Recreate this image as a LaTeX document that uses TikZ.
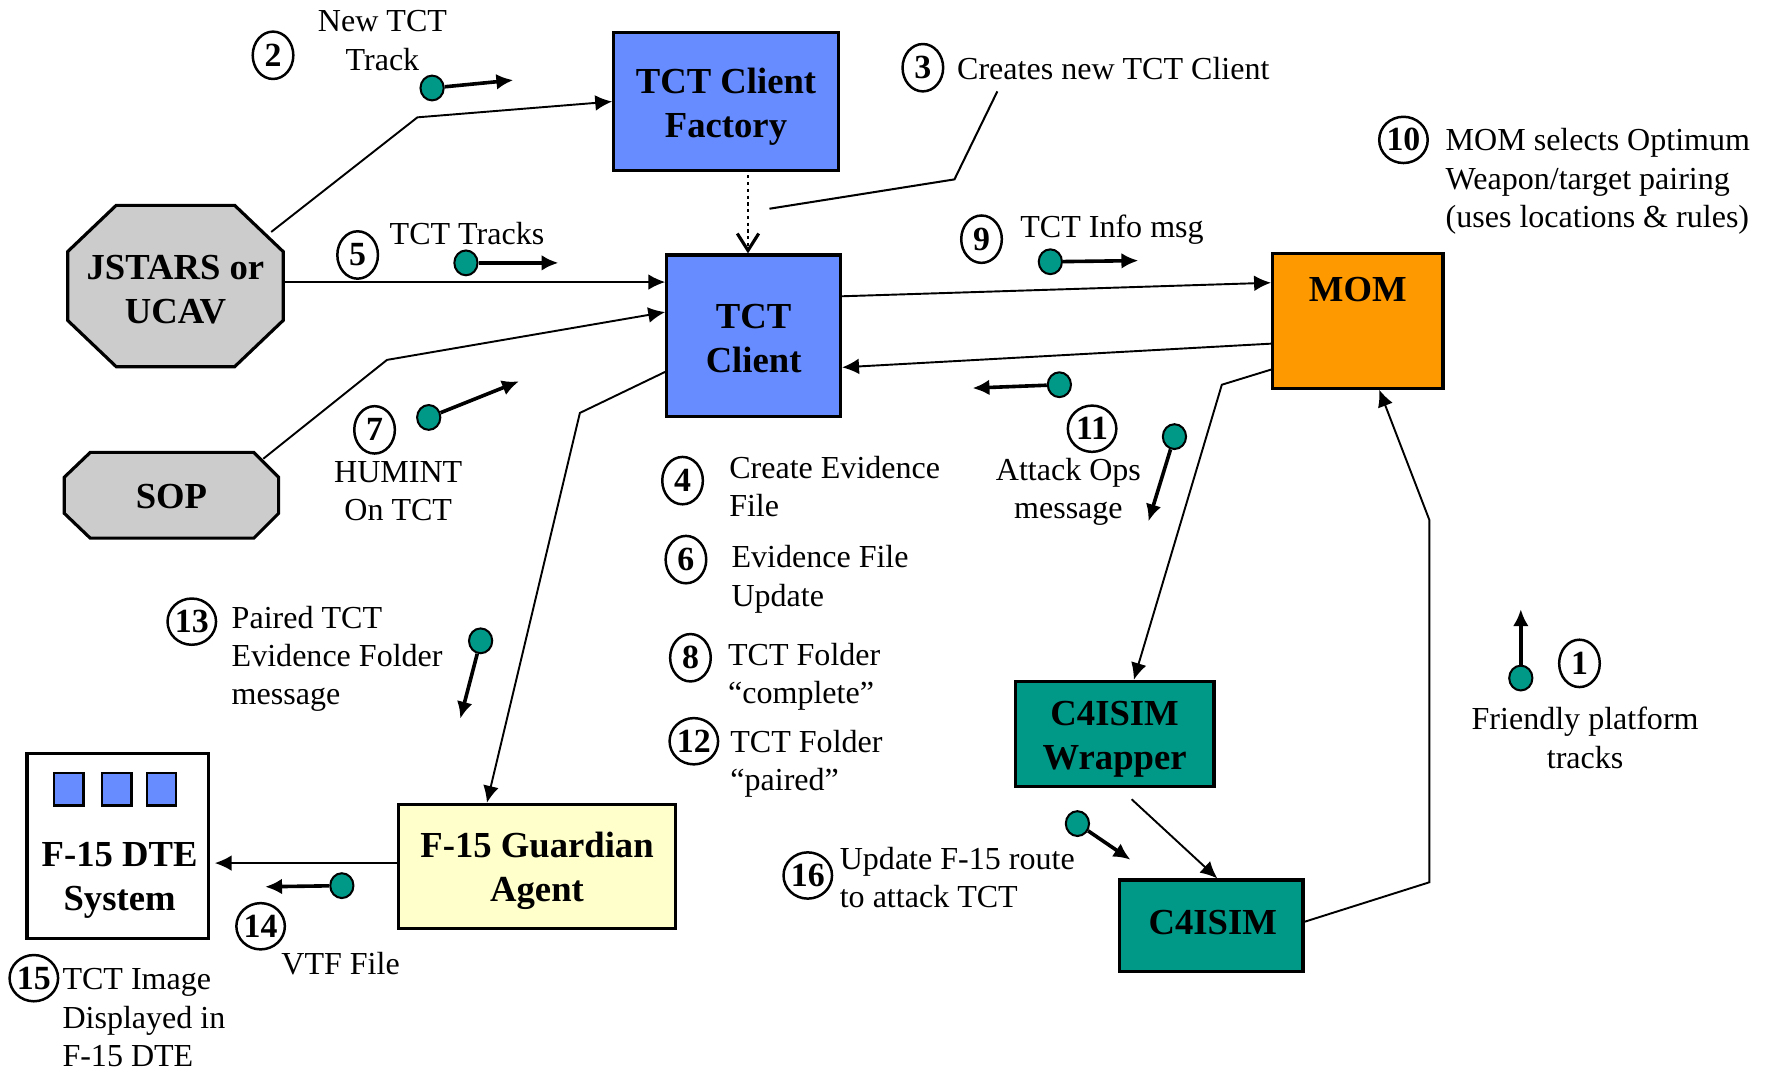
\documentclass[tikz,border=0pt]{standalone}
\usepackage{fontspec}
\setmainfont{Liberation Serif}
\usetikzlibrary{arrows.meta,calc,shapes.geometric}
\definecolor{cblue}{RGB}{102,140,255}
\definecolor{corange}{RGB}{255,153,0}
\definecolor{cteal}{RGB}{0,153,136}
\definecolor{cgray}{RGB}{204,204,204}
\definecolor{cyellow}{RGB}{255,255,204}
\begin{document}
\begin{tikzpicture}[x=0.5pt,y=-0.5pt,
 boxnode/.style={draw=black, line width=1.4pt, inner sep=0pt},
 boxtxt/.style={inner sep=0pt, align=center, font=\bfseries\fontsize{16.25}{19.5}\selectfont},
 lbl/.style={inner sep=0pt, font=\fontsize{14.2}{17}\selectfont},
 numc/.style={draw=black, line width=1.1pt, ellipse, inner sep=0pt, minimum width=18pt, minimum height=21pt, fill=white, font=\bfseries\fontsize{15}{16}\selectfont},
 numcc/.style={numc, minimum width=21.5pt, minimum height=20.5pt},
 tok/.style={draw=black, line width=0.9pt, ellipse, fill=cteal, inner sep=0pt, minimum width=10.3pt, minimum height=11pt},
 tokarrow/.style={line width=1.6pt, -{Latex[length=7.5pt,width=7pt]}},
 conn/.style={line width=0.85pt, -{Latex[length=7.5pt,width=7pt]}},
 dotarrow/.style={line width=1.3pt, dash pattern=on 1.4pt off 1.6pt, -{Straight Barb[length=7.5pt,width=9.5pt,line width=1.4pt]}},
]
\useasboundingbox (0,0) rectangle (1568,949);

% octagons
\draw[line width=1.4pt, fill=cgray] (103,182) -- (208,182) -- (251,223) -- (251,284) -- (208,325) -- (103,325) -- (60,284) -- (60,223) -- cycle;
\draw[line width=1.4pt, fill=cgray] (80,401) -- (225,401) -- (247,423) -- (247,455) -- (225,477) -- (80,477) -- (57,455) -- (57,423) -- cycle;
\node[boxtxt, minimum width=95.5pt, minimum height=71.5pt] (jst) at (155.5,253.5) {};
\node[boxtxt] (jstl) at (155.5,256.5) {JSTARS or\\UCAV};
\node[boxtxt, minimum width=95pt, minimum height=38pt] (sop) at (152,439) {};
\node[boxtxt] (sopl) at (152,440) {SOP};

% boxes
\node[boxnode, fill=cblue, minimum width=99.5pt, minimum height=61pt] (fac) at (643.5,90) {};
\node[boxtxt] (facl) at (643.5,94.5) {TCT Client\\Factory};
\node[boxnode, fill=cblue, minimum width=77pt, minimum height=71.5pt] (tc) at (668,297.5) {};
\node[boxtxt] (tcl) at (668,300.5) {TCT\\Client};
\node[boxnode, fill=corange, minimum width=75.5pt, minimum height=59.5pt] (mom) at (1203.5,284.5) {};
\node[boxtxt] (moml) at (1203.5,257) {MOM};
\node[boxnode, fill=white, minimum width=80.5pt, minimum height=82pt] (dte) at (104.5,750) {};
\node[boxtxt] (dtel) at (106,780.5) {F-15 DTE\\System};
\node[boxnode, line width=1pt, fill=cblue, minimum width=13pt, minimum height=14.5pt] (sq1) at (61,699.5) {};
\node[boxnode, line width=1pt, fill=cblue, minimum width=13pt, minimum height=14.5pt] (sq2) at (103.5,699.5) {};
\node[boxnode, line width=1pt, fill=cblue, minimum width=13pt, minimum height=14.5pt] (sq3) at (143,699.5) {};
\node[boxnode, fill=cyellow, minimum width=123pt, minimum height=55pt] (fga) at (476,768) {};
\node[boxtxt] (fgal) at (476,772) {F-15 Guardian\\Agent};
\node[boxnode, fill=cteal, minimum width=88pt, minimum height=46.5pt] (wrap) at (988,650.5) {};
\node[boxtxt] (wrapl) at (988,655.5) {C4ISIM\\Wrapper};
\node[boxnode, fill=cteal, minimum width=81.5pt, minimum height=40.5pt] (c4) at (1073.5,820.5) {};
\node[boxtxt] (c4l) at (1075,817.5) {C4ISIM};

% connectors
\draw[conn] ($(jst.north east)+(-11,24)$) -- (370,104) -- (fac.west);
\coordinate (jsta) at ($(jst.east)+(0,-3.5)$);
\draw[conn] (jsta) -- (jsta -| tc.west);
\draw[conn] ($(sop.north east)+(-14,6)$) -- (343,319) -- ($(tc.north west)+(0,52)$);
\draw[conn] ($(tc.north west)+(0,105)$) -- (514,366) -- ($(fga.north west)+(80,0)$);
\coordinate (dx) at ($(tc.north)+(-5,0)$);
\draw[dotarrow] ($(dx |- fac.south)+(0,3)$) -- (dx);
\coordinate (l3a) at (884,81);
\coordinate (l3b) at (846,159);
\coordinate (l3c) at (682,185);
\draw[line width=0.9pt] (l3a) -- (l3b) -- (l3c);
\draw[conn] ($(tc.north east)+(0,38)$) -- ($(mom.north west)+(0,27)$);
\draw[conn] ($(mom.north west)+(0,81)$) -- ($(tc.north east)+(0,101)$);
\draw[conn] ($(mom.north west)+(0,104)$) -- (1083,341) -- ($(wrap.north)+(17,0)$);
\draw[conn] ($(wrap.south)+(15,10)$) -- ($(c4.north)+(5.5,0)$);
\draw[conn] ($(c4.east)+(0,-3.5)$) -- (1267,782) -- (1267,461) -- ($(mom.south)+(19,0)$);
\coordinate (fgw) at ($(fga.west)+(0,-3)$);
\draw[conn, shorten >=2pt] (fgw) -- (fgw -| dte.east);

% message tokens
\node[tok] (t2) at (383,78) {}; \coordinate (t2e) at (455,71); \draw[tokarrow] (t2) -- (t2e);
\node[tok] (t5) at (413,233) {}; \coordinate (t5e) at (495,233); \draw[tokarrow] (t5) -- (t5e);
\node[tok] (t7) at (380,370) {}; \coordinate (t7e) at (460,338); \draw[tokarrow] (t7) -- (t7e);
\node[tok] (t9) at (931,232) {}; \coordinate (t9e) at (1009,231); \draw[tokarrow] (t9) -- (t9e);
\node[tok] (t11a) at (939,341) {}; \coordinate (t11ae) at (862,344); \draw[tokarrow] (t11a) -- (t11ae);
\node[tok] (t11b) at (1041,387) {}; \coordinate (t11be) at (1018,462); \draw[tokarrow] (t11b) -- (t11be);
\node[tok] (t13) at (426,568) {}; \coordinate (t13e) at (408,637); \draw[tokarrow] (t13) -- (t13e);
\node[tok] (t14) at (303,785) {}; \coordinate (t14e) at (235,786); \draw[tokarrow] (t14) -- (t14e);
\node[tok] (t16) at (955,730) {}; \coordinate (t16e) at (1002,762); \draw[tokarrow] (t16) -- (t16e);
\node[tok] (t1) at (1348,601) {}; \coordinate (t1e) at (1348,540); \draw[tokarrow] (t1) -- (t1e);

% numbered circles
\node[numc] (n2) at (242,49) {2};
\node[numc] (n3) at (818,60) {3};
\node[numc] (n5) at (317,226) {5};
\node[numc] (n7) at (332,381) {7};
\node[numc] (n9) at (870,212) {9};
\node[numcc] (n10) at (1244,124) {10};
\node[numcc] (n11) at (968,380) {11};
\node[numc] (n4) at (605,426) {4};
\node[numc] (n6) at (608,496) {6};
\node[numc] (n8) at (612,583) {8};
\node[numcc] (n12) at (615,657) {12};
\node[numc] (n1) at (1400,588) {1};
\node[numcc] (n16) at (716,776) {16};
\node[numcc] (n13) at (170,551) {13};
\node[numcc] (n14) at (231,821) {14};
\node[numcc] (n15) at (30,867) {15};

% labels
\node[lbl, align=center] (l2) at (339,36) {New TCT\\Track};
\node[lbl, anchor=west] (l3) at (848,61) {Creates new TCT Client};
\node[lbl, anchor=west] (l5) at (345,207) {TCT Tracks};
\node[lbl, anchor=west] (l9) at (904,204) {TCT Info msg};
\node[lbl, anchor=west, align=left] (l10) at (1281,161) {MOM selects Optimum\\Weapon/target pairing\\(uses locations \& rules)};
\node[lbl, align=center] (l7) at (353,435.5) {HUMINT\\On TCT};
\node[lbl, anchor=west, align=left] (l4) at (646,431) {Create Evidence\\File};
\node[lbl, anchor=west, align=left] (l6) at (648,513.5) {Evidence File\\Update};
\node[lbl, anchor=west, align=left] (l8) at (645,600) {TCT Folder\\“complete”};
\node[lbl, anchor=west, align=left] (l12) at (647,677) {TCT Folder\\“paired”};
\node[lbl, align=center] (l11) at (947,436) {Attack Ops\\message};
\node[lbl, anchor=west, align=left] (l13) at (205,584) {Paired TCT\\Evidence Folder\\message};
\node[lbl, align=center] (l1) at (1405,654) {Friendly platform\\tracks};
\node[lbl, anchor=west, align=left] (l16) at (744,778) {Update F-15 route\\to attack TCT};
\node[lbl, anchor=west] (l14) at (249,854) {VTF File};
\node[lbl, anchor=west, align=left] (l15) at (55,902) {TCT Image\\Displayed in\\F-15 DTE};
\end{tikzpicture}
\end{document}
